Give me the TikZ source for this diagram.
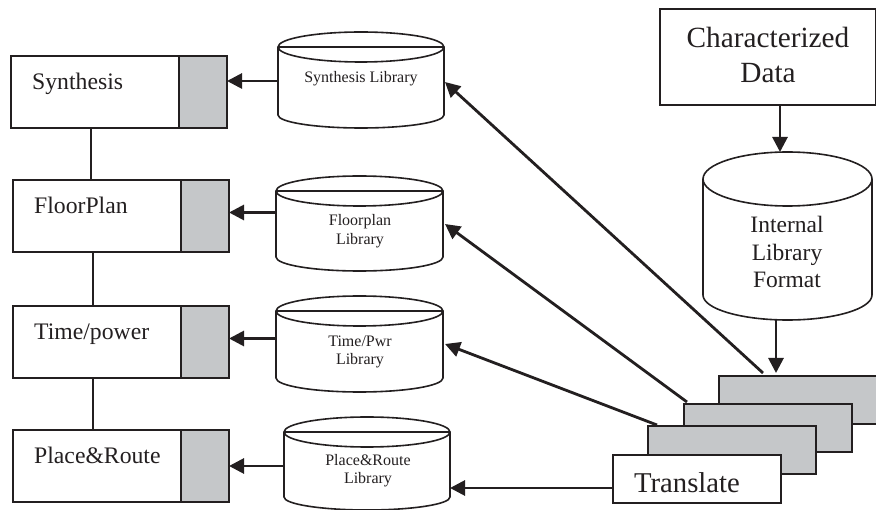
\documentclass[tikz,border=0pt]{standalone}
\usepackage{fontspec}
\setmainfont{Liberation Serif}
\usetikzlibrary{arrows.meta}
\definecolor{panel}{RGB}{197,199,201}
\definecolor{ink}{RGB}{35,31,32}
\tikzset{
 x=1pt,y=-1pt,
 every node/.style={text=ink,inner sep=0pt},
 boxline/.style={draw=ink,line width=1.6pt},
 thin link/.style={draw=ink,line width=1.6pt},
 feed/.style={draw=ink,line width=2.8pt,-{Triangle[length=15pt,width=15pt]}},
 biglabel/.style={font=\fontsize{23.7}{28}\selectfont,anchor=base west},
 smalllabel/.style={font=\fontsize{16}{18.5}\selectfont,align=center},
 titlelabel/.style={font=\fontsize{29.3}{35}\selectfont,align=center},
 innerlabel/.style={font=\fontsize{23.5}{27.5}\selectfont,align=center},
}
\newcommand{\toolbox}[5]{% name, x0, y0, label, text x
 \draw[boxline,fill=white] (#2,#3) rectangle +(168,72);
 \draw[boxline,fill=panel] (#2+168,#3) rectangle +(48,72);
 \coordinate (#1-in) at (#2+216,#3+36);
 \node[biglabel] (#1-label) at (#5,#3+34) {#4};
}
% x0, x1, y of ellipse centre, y where the sides end, top radius, bottom radius
\newcommand{\cylbody}[6]{%
 \draw[boxline,fill=white] (#1,#3) -- (#1,#4) arc[start angle=180,end angle=0,x radius={(#2-#1)/2},y radius=#6] -- (#2,#3);
 \draw[boxline,fill=white] ({(#1+#2)/2},#3) ellipse[x radius={(#2-#1)/2},y radius=#5];
}
\begin{document}
\begin{tikzpicture}
\useasboundingbox (0,0) rectangle (876,510);
\fill[white] (0,0) rectangle (876,510);
% tool boxes
\toolbox{syn}{11}{56}{Synthesis}{32}
\toolbox{flo}{13}{180}{FloorPlan}{34}
\toolbox{tim}{13}{306}{Time/power}{34}
\toolbox{pla}{13}{430}{Place\&Route}{34}
\coordinate (l1a) at (91,128); \coordinate (l1b) at (91,180);
\coordinate (l2a) at (93,252); \coordinate (l2b) at (93,306);
\coordinate (l3a) at (93,378); \coordinate (l3b) at (93,430);
\draw[thin link] (l1a) -- (l1b);
\draw[thin link] (l2a) -- (l2b);
\draw[thin link] (l3a) -- (l3b);
% libraries
\cylbody{278}{444}{47}{115}{15}{13}
\draw[boxline] (278,47) -- (444,47);
\cylbody{276}{443}{191}{257}{15}{14}
\draw[boxline] (276,191) -- (443,191);
\cylbody{276}{443}{311}{378}{15}{14}
\draw[boxline] (276,311) -- (443,311);
\cylbody{284}{450}{432}{497}{15}{13}
\draw[boxline] (284,432) -- (450,432);
\node[smalllabel] (sl) at (361,78.5) {Synthesis Library};
\node[smalllabel] (fl) at (360,231) {Floorplan\\Library};
\node[smalllabel] (tl) at (360,352) {Time/Pwr\\Library};
\node[smalllabel] (pl) at (368,470.5) {Place\&Route\\Library};
% top right
\node[boxline,minimum width=216pt,minimum height=96pt,anchor=north west] (cd) at (659,8) {};
\node[titlelabel] (cdt) at (768,55) {Characterized\\Data};
\cylbody{703}{872}{179}{295}{27}{25}
\node[innerlabel] (ilf) at (787,252) {Internal\\Library\\Format};
\coordinate (etop) at (780,152);
\coordinate (ebot) at (776,320);
% stack
\draw[boxline,fill=panel] (719,376) rectangle (884,424);
\draw[boxline,fill=panel] (684,404) rectangle (852,452);
\draw[boxline,fill=panel] (648,426) rectangle (816,474);
\node[boxline,fill=white,minimum width=168pt,minimum height=48pt,anchor=north west] (tr) at (612,454) {};
\node[font=\fontsize{28.7}{34}\selectfont] (trt) at (687,483) {Translate};
% arrows
\coordinate (s1) at (763,373);
\coordinate (s2) at (687,402);
\coordinate (s3) at (657,425);
\coordinate (a-in) at (445,82);
\coordinate (b-in) at (445,224);
\coordinate (c-in) at (445,344);
\coordinate (d-in) at (450,488);
\coordinate (stacktop) at (776,373);
\coordinate (a-out) at (278,81);  \coordinate (syn-tip) at (227,81);
\coordinate (b-out) at (276,212.5); \coordinate (flo-tip) at (229,212.5);
\coordinate (c-out) at (276,338.5); \coordinate (tim-tip) at (229,338.5);
\coordinate (d-out) at (284,466); \coordinate (pla-tip) at (229,466);
\draw[feed] (s1) -- (a-in);
\draw[feed] (s2) -- (b-in);
\draw[feed] (s3) -- (c-in);
\draw[feed] (tr.west |- d-in) -- (d-in);
\draw[feed] (cd.south -| etop) -- (etop);
\draw[feed] (ebot) -- (stacktop);
\draw[feed] (a-out) -- (syn-tip);
\draw[feed] (b-out) -- (flo-tip);
\draw[feed] (c-out) -- (tim-tip);
\draw[feed] (d-out) -- (pla-tip);
\end{tikzpicture}
\end{document}
